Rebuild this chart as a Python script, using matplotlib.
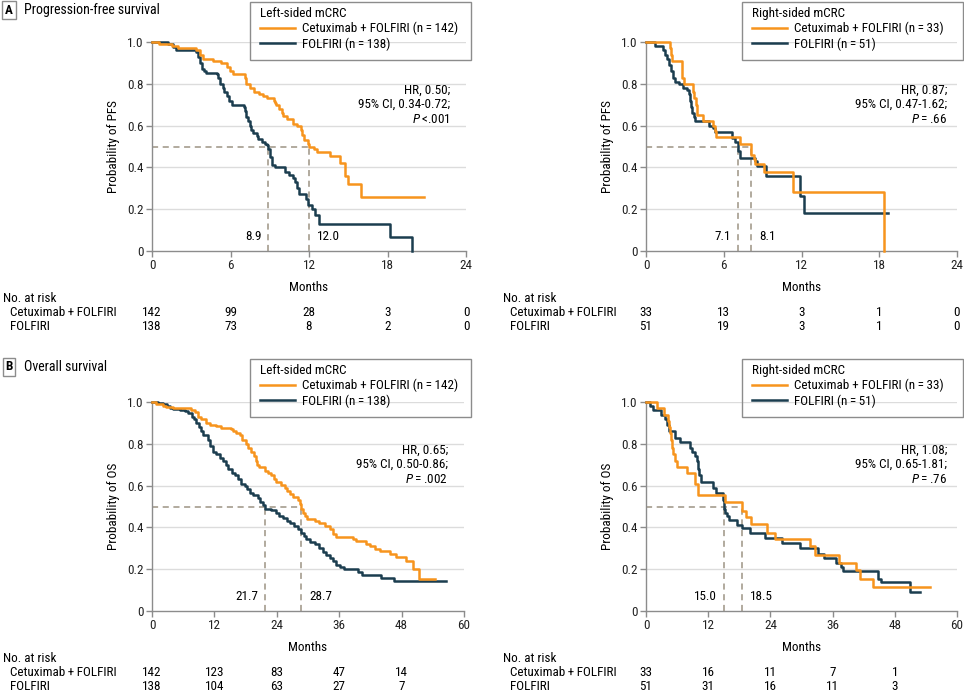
import matplotlib
matplotlib.use('Agg')
import matplotlib.pyplot as plt
from matplotlib import font_manager, transforms
from matplotlib.font_manager import FontProperties
from matplotlib.textpath import TextPath
from matplotlib.patches import Rectangle
from matplotlib.lines import Line2D

W, H = 964, 694
ORANGE = '#F7941D'
NAVY = '#1B3D4F'
DASH = '#9C9384'
GRID = '#DCDCDC'
SPINE = '#8C8C8C'

# The source uses a condensed sans. Pick the installed regular sans face whose
# legend label width comes closest to the source (about 156 px at 10 pt).
SAMPLE = 'Cetuximab + FOLFIRI (n = 142)'
TARGET = 156.0
BASES = ('DejaVu Sans', 'Liberation Sans', 'Noto Sans', 'Roboto', 'Open Sans', 'Lato', 'Inter')
best = None
for f in font_manager.fontManager.ttflist:
    if not f.name.startswith(BASES) or 'Mono' in f.name or 'CJK' in f.name:
        continue
    if f.style != 'normal' or f.weight not in (400, 'normal', 'regular'):
        continue
    if f.name not in BASES and not any(k in f.name for k in ('Condensed', 'Narrow')):
        continue
    try:
        w = TextPath((0, 0), SAMPLE, prop=FontProperties(fname=f.fname, size=10)).get_extents().width * 100 / 72
    except Exception:
        continue
    if w < 120:
        continue
    if best is None or abs(w - TARGET) < abs(best[1] - TARGET):
        best = (f, w)
if best is None:
    FONT, STRETCH, FS = 'DejaVu Sans', 'normal', 9
else:
    FONT, STRETCH = best[0].name, best[0].stretch
    FS = max(8.5, min(10.0, 10.0 * TARGET / best[1]))
plt.rcParams['font.family'] = [FONT, 'DejaVu Sans']
plt.rcParams['font.stretch'] = STRETCH
plt.rcParams['font.size'] = FS
plt.rcParams['mathtext.fontset'] = 'custom'
plt.rcParams['mathtext.rm'] = FONT
plt.rcParams['mathtext.it'] = FONT + ':italic'

# ---- data ----
# PFS, left-sided
pfs_l_cet_t = [0, 0.5, 1.5, 2.0, 3.4, 3.65, 3.9, 4.7, 5.3, 5.7, 5.95, 6.2, 7.1, 7.2, 7.5,
               7.8, 8.2, 8.5, 8.8, 9.3, 9.4, 9.5, 9.7, 9.9, 10.0, 10.3, 10.8, 11.1, 11.4, 11.5,
               11.6, 11.9, 12.0, 12.4, 12.6, 13.6, 14.4, 14.75, 15.0, 16.0, 20.8]
pfs_l_cet_s = [1.0, 0.99, 0.98, 0.97, 0.96, 0.94, 0.92, 0.91, 0.90, 0.88, 0.86, 0.845, 0.83, 0.80, 0.78,
               0.76, 0.75, 0.74, 0.73, 0.72, 0.71, 0.70, 0.68, 0.66, 0.645, 0.63, 0.61, 0.60, 0.58, 0.555,
               0.53, 0.51, 0.50, 0.49, 0.475, 0.455, 0.42, 0.36, 0.32, 0.26, 0.26]
pfs_l_fol_t = [0, 1.2, 1.6, 1.85, 3.4, 3.5, 3.65, 3.8, 3.95, 4.15, 5.0, 5.05, 5.2, 5.4, 5.5,
               5.7, 5.9, 6.08, 7.0, 7.1, 7.2, 7.35, 7.5, 7.6, 7.75, 8.0, 8.1, 8.4, 8.6, 8.8,
               8.9, 9.0, 9.05, 9.15, 9.2, 9.4, 10.2, 10.5, 10.75, 10.9, 11.05, 11.2, 11.8, 11.95, 12.2,
               12.45, 12.8, 18.2, 19.9]
pfs_l_fol_s = [1.0, 0.99, 0.975, 0.96, 0.95, 0.93, 0.90, 0.87, 0.86, 0.85, 0.845, 0.83, 0.80, 0.78, 0.76,
               0.74, 0.72, 0.70, 0.69, 0.67, 0.64, 0.62, 0.60, 0.58, 0.565, 0.55, 0.535, 0.52, 0.51, 0.505,
               0.49, 0.47, 0.45, 0.43, 0.41, 0.40, 0.38, 0.365, 0.35, 0.33, 0.30, 0.275, 0.25, 0.22, 0.20,
               0.17, 0.13, 0.065, 0.0]

# PFS, right-sided
pfs_r_cet_t = [0, 1.83, 1.95, 2.0, 2.78, 2.9, 3.63, 3.73, 3.82, 3.9, 3.97, 4.37, 5.15, 5.3, 5.43,
               7.28, 8.13, 8.3, 8.45, 9.13, 11.34, 18.34]
pfs_r_cet_s = [1.0, 0.97, 0.94, 0.91, 0.83, 0.80, 0.76, 0.73, 0.70, 0.67, 0.65, 0.62, 0.60, 0.575, 0.545,
               0.51, 0.46, 0.44, 0.415, 0.38, 0.28, 0.0]
pfs_r_fol_t = [0, 0.72, 1.3, 1.5, 1.62, 1.8, 1.95, 2.05, 2.26, 2.52, 2.85, 3.16, 3.3, 3.4, 3.47,
               3.55, 3.68, 3.8, 4.9, 5.2, 5.35, 6.64, 6.9, 7.1, 7.28, 8.44, 8.57, 9.29, 11.9, 12.17,
               18.65]
pfs_r_fol_s = [1.0, 0.98, 0.96, 0.94, 0.92, 0.89, 0.86, 0.83, 0.81, 0.80, 0.78, 0.77, 0.75, 0.72, 0.69,
               0.66, 0.64, 0.62, 0.60, 0.59, 0.57, 0.54, 0.52, 0.48, 0.445, 0.43, 0.405, 0.36, 0.265, 0.18,
               0.18]

# OS, left-sided
os_l_cet_t = [0, 0.8, 2.1, 2.7, 4.0, 7.5, 8.2, 8.85, 9.5, 10.4, 11.2, 12.4, 13.3, 15.25, 15.6,
              16.2, 16.9, 17.4, 18.0, 18.5, 19.1, 19.6, 20.0, 20.2, 20.6, 21.7, 22.3, 22.9, 23.4, 23.9,
              24.9, 25.5, 26.0, 26.6, 27.1, 28.0, 28.4, 28.7, 29.0, 29.4, 29.8, 31.3, 32.2, 33.2, 34.2,
              34.8, 35.4, 38.65, 39.2, 41.2, 41.9, 42.8, 43.8, 45.7, 47.0, 48.9, 50.2, 51.3, 54.4]
os_l_cet_s = [1.0, 0.99, 0.98, 0.975, 0.97, 0.96, 0.95, 0.93, 0.92, 0.90, 0.89, 0.885, 0.875, 0.87, 0.86,
              0.85, 0.84, 0.82, 0.80, 0.78, 0.76, 0.74, 0.72, 0.70, 0.69, 0.67, 0.66, 0.65, 0.63, 0.615,
              0.605, 0.59, 0.575, 0.56, 0.545, 0.53, 0.51, 0.49, 0.47, 0.455, 0.44, 0.43, 0.42, 0.405, 0.39,
              0.37, 0.355, 0.345, 0.335, 0.32, 0.31, 0.295, 0.285, 0.275, 0.26, 0.24, 0.20, 0.155, 0.155]
os_l_fol_t = [0, 1.1, 2.1, 2.8, 3.4, 4.0, 5.3, 6.3, 6.9, 7.6, 8.0, 8.5, 9.0, 9.4, 9.9,
              10.8, 11.2, 11.7, 12.4, 13.0, 13.7, 14.2, 14.6, 15.3, 15.9, 16.5, 17.2, 17.8, 18.3, 18.8,
              19.4, 20.4, 20.7, 21.3, 21.7, 22.9, 23.9, 24.4, 25.2, 26.0, 26.6, 27.4, 28.1, 28.7, 29.2,
              29.6, 30.3, 31.3, 32.2, 32.8, 33.5, 34.2, 34.8, 35.4, 36.1, 37.0, 39.6, 40.3, 44.1, 46.5,
              56.5]
os_l_fol_s = [1.0, 0.995, 0.99, 0.98, 0.97, 0.965, 0.96, 0.955, 0.945, 0.93, 0.92, 0.90, 0.88, 0.86, 0.84,
              0.82, 0.79, 0.76, 0.75, 0.73, 0.72, 0.70, 0.68, 0.66, 0.65, 0.63, 0.61, 0.60, 0.585, 0.565,
              0.555, 0.54, 0.52, 0.505, 0.49, 0.485, 0.47, 0.455, 0.445, 0.43, 0.42, 0.405, 0.39, 0.375, 0.36,
              0.345, 0.33, 0.32, 0.30, 0.28, 0.27, 0.255, 0.24, 0.22, 0.21, 0.20, 0.185, 0.17, 0.16, 0.145,
              0.145]

# OS, right-sided
os_r_cet_t = [0, 2.1, 3.5, 4.2, 4.45, 4.7, 4.9, 5.1, 5.3, 5.5, 5.97, 8.0, 9.5, 9.95, 15.3,
              18.5, 19.3, 20.3, 23.4, 24.9, 31.6, 32.6, 37.3, 40.5, 41.3, 43.8, 54.75]
os_r_cet_s = [1.0, 0.97, 0.94, 0.91, 0.88, 0.85, 0.82, 0.78, 0.75, 0.72, 0.69, 0.66, 0.61, 0.555, 0.52,
              0.48, 0.45, 0.415, 0.375, 0.345, 0.31, 0.27, 0.23, 0.195, 0.155, 0.115, 0.115]
os_r_fol_t = [0, 0.8, 1.35, 2.8, 3.7, 4.0, 4.4, 5.65, 6.5, 8.4, 8.9, 9.4, 9.8, 10.0, 10.3,
              10.65, 13.0, 13.55, 14.8, 15.0, 15.3, 15.6, 16.0, 17.5, 18.5, 20.0, 23.0, 26.2, 29.7, 33.2,
              34.4, 36.6, 37.6, 38.1, 44.7, 45.3, 50.9, 52.8]
os_r_fol_s = [1.0, 0.98, 0.96, 0.94, 0.92, 0.89, 0.86, 0.83, 0.81, 0.78, 0.76, 0.74, 0.72, 0.68, 0.65,
              0.615, 0.59, 0.565, 0.53, 0.49, 0.47, 0.455, 0.435, 0.41, 0.395, 0.375, 0.35, 0.325, 0.30, 0.275,
              0.255, 0.23, 0.21, 0.19, 0.155, 0.14, 0.09, 0.09]

medians = {'pfs_l': [8.9, 12.0], 'pfs_r': [7.1, 8.1], 'os_l': [21.7, 28.7], 'os_r': [15.0, 18.5]}
hr_text = {'pfs_l': ['HR, 0.50;', '95% CI, 0.34-0.72;', r'$P$' + '\u2009<.001'],
           'pfs_r': ['HR, 0.87;', '95% CI, 0.47-1.62;', r'$P$' + '\u2009=\u2009.66'],
           'os_l': ['HR, 0.65;', '95% CI, 0.50-0.86;', r'$P$' + '\u2009=\u2009.002'],
           'os_r': ['HR, 1.08;', '95% CI, 0.65-1.81;', r'$P$' + '\u2009=\u2009.76']}
n_cet = {'l': 142, 'r': 33}
n_fol = {'l': 138, 'r': 51}
pfs_ticks = [0, 6, 12, 18, 24]
os_ticks = [0, 12, 24, 36, 48, 60]
risk_cet = {'pfs_l': [142, 99, 28, 3, 0], 'pfs_r': [33, 13, 3, 1, 0],
            'os_l': [142, 123, 83, 47, 14], 'os_r': [33, 16, 11, 7, 1]}
risk_fol = {'pfs_l': [138, 73, 8, 2, 0], 'pfs_r': [51, 19, 3, 1, 0],
            'os_l': [138, 104, 63, 27, 7], 'os_r': [51, 31, 16, 11, 3]}


def fx(x):
    return x / W


def fy(y):
    return 1 - y / H


fig = plt.figure(figsize=(W / 100, H / 100), dpi=100)


def panel(key, side, top, ax_left, ax_w, xticks, ylab, curves, legend_x, hr_x):
    bottom = top + 209
    ax = fig.add_axes([fx(ax_left), fy(bottom), fx(ax_w), 209 / H])
    for sp in ['top', 'right']:
        ax.spines[sp].set_visible(False)
    for sp in ['left', 'bottom']:
        ax.spines[sp].set_color(SPINE)
        ax.spines[sp].set_linewidth(1)
    ax.set_xlim(0, xticks[-1])
    ax.set_ylim(0, 1.0)
    ax.set_xticks(xticks)
    ax.set_yticks([0, 0.2, 0.4, 0.6, 0.8, 1.0])
    ax.set_yticklabels(['0', '0.2', '0.4', '0.6', '0.8', '1.0'])
    ax.tick_params(axis='both', direction='out', length=4, width=1, color=SPINE,
                   labelsize=FS, pad=2, labelcolor='#222222')
    for g in [0.2, 0.4, 0.6, 0.8, 1.0]:
        ax.axhline(g, color=GRID, lw=1, zorder=0)

    # median lines
    m = medians[key]
    ax.plot([0, max(m)], [0.5, 0.5], color=DASH, lw=1.1, ls=(0, (4, 3)), zorder=1)
    for v in m:
        ax.plot([v, v], [0, 0.5], color=DASH, lw=1.1, ls=(0, (4, 3)), zorder=1)
    ax.annotate(f'{min(m):.1f}', xy=(min(m), 0), xytext=(-5, 6), textcoords='offset points',
                ha='right', va='bottom', fontsize=FS)
    ax.annotate(f'{max(m):.1f}', xy=(max(m), 0), xytext=(6, 6), textcoords='offset points',
                ha='left', va='bottom', fontsize=FS)

    (ct, cs), (ft, fs) = curves
    ax.step(ft, fs, where='post', color=NAVY, lw=1.8, zorder=3, clip_on=False)
    ax.step(ct, cs, where='post', color=ORANGE, lw=1.8, zorder=4, clip_on=False)

    for i, line in enumerate(hr_text[key]):
        ax.text(hr_x, 0.77 - 0.07 * i, line, transform=ax.transAxes, ha='right', va='center', fontsize=FS)

    ax.set_xlabel('Months', fontsize=FS, labelpad=6)
    ax.set_ylabel(ylab, fontsize=FS, labelpad=5)

    # legend box
    x0, x1 = legend_x
    y0 = top - 44 if top > 100 else 1
    y1 = y0 + 59
    fig.add_artist(Rectangle((fx(x0), fy(y1)), fx(x1 - x0), 58 / H, transform=fig.transFigure,
                             fill=False, edgecolor=SPINE, lw=1))
    side_name = 'Left-sided mCRC' if side == 'l' else 'Right-sided mCRC'
    labels = [f'Cetuximab + FOLFIRI (n\u2009=\u2009{n_cet[side]})', f'FOLFIRI (n\u2009=\u2009{n_fol[side]})']
    handles = [Line2D([], [], color=ORANGE, lw=1.8), Line2D([], [], color=NAVY, lw=1.8)]
    fig.legend(handles, labels, title=side_name, loc='upper left',
               bbox_to_anchor=(fx(x0 + 10), fy(y0 + 6)), frameon=False, alignment='left',
               handlelength=2.7, handletextpad=0.5, labelspacing=0.15, borderpad=0,
               borderaxespad=0, fontsize=FS, title_fontsize=FS)

    # number at risk table
    tr = transforms.blended_transform_factory(ax.transData, fig.transFigure)
    lab_x = 3 if side == 'l' else 503
    rows = [bottom + 47, bottom + 62, bottom + 76]
    fig.text(fx(lab_x), fy(rows[0]), 'No. at risk', ha='left', va='center', fontsize=FS)
    fig.text(fx(lab_x + 7), fy(rows[1]), 'Cetuximab\u2009+\u2009FOLFIRI', ha='left', va='center', fontsize=FS)
    fig.text(fx(lab_x + 7), fy(rows[2]), 'FOLFIRI', ha='left', va='center', fontsize=FS)
    for t, a, b in zip(xticks, risk_cet[key], risk_fol[key]):
        ax.text(t, fy(rows[1]), str(a), transform=tr, ha='center', va='center', fontsize=FS)
        ax.text(t, fy(rows[2]), str(b), transform=tr, ha='center', va='center', fontsize=FS)
    return ax


panel('pfs_l', 'l', 42, 152, 314, pfs_ticks, 'Probability of PFS',
      [(pfs_l_cet_t, pfs_l_cet_s), (pfs_l_fol_t, pfs_l_fol_s)], (250, 471), 0.949)
panel('pfs_r', 'r', 42, 646, 311, pfs_ticks, 'Probability of PFS',
      [(pfs_r_cet_t, pfs_r_cet_s), (pfs_r_fol_t, pfs_r_fol_s)], (742, 963), 0.968)
panel('os_l', 'l', 402, 152, 312, os_ticks, 'Probability of OS',
      [(os_l_cet_t, os_l_cet_s), (os_l_fol_t, os_l_fol_s)], (250, 471), 0.949)
panel('os_r', 'r', 402, 646, 311, os_ticks, 'Probability of OS',
      [(os_r_cet_t, os_r_cet_s), (os_r_fol_t, os_r_fol_s)], (742, 963), 0.968)

# panel labels
box = dict(boxstyle='square,pad=0.2', fc='white', ec=SPINE, lw=1)
fig.text(fx(9), fy(10), 'A', ha='center', va='center', fontsize=FS, fontweight='bold', bbox=box)
fig.text(fx(24), fy(10), 'Progression-free survival', ha='left', va='center', fontsize=FS + 0.5)
fig.text(fx(9), fy(367), 'B', ha='center', va='center', fontsize=FS, fontweight='bold', bbox=box)
fig.text(fx(24), fy(367), 'Overall survival', ha='left', va='center', fontsize=FS + 0.5)

fig.savefig('out.png', dpi=100)
